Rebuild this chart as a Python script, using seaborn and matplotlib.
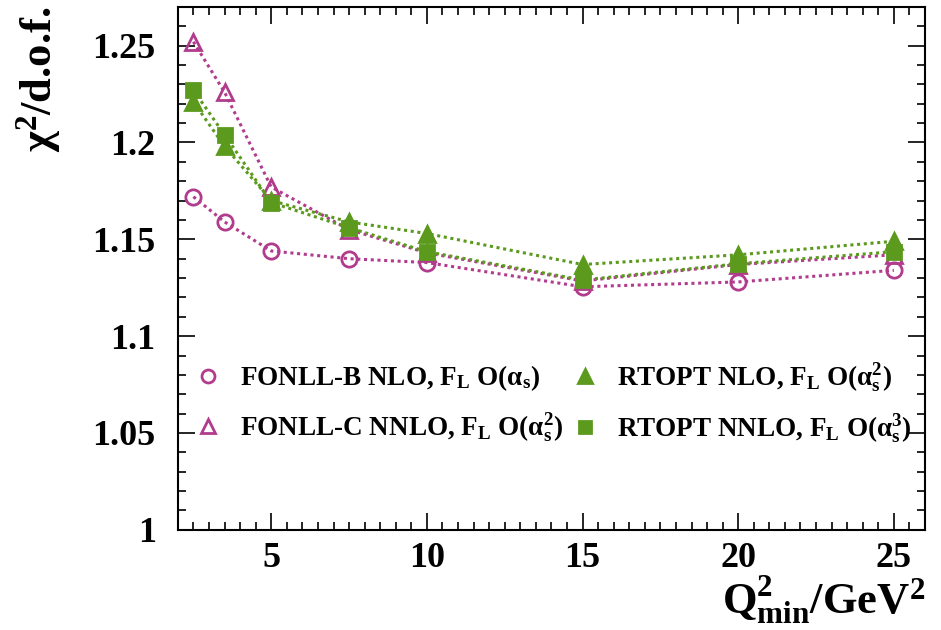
import matplotlib
matplotlib.use("Agg")
import matplotlib.pyplot as plt
import seaborn as sns
import pandas as pd
from matplotlib.lines import Line2D
from matplotlib.ticker import MultipleLocator

q2min = [2.5, 3.5, 5, 7.5, 10, 15, 20, 25]
fonll_b = [1.172, 1.159, 1.144, 1.140, 1.138, 1.1255, 1.128, 1.134]
fonll_c = [1.252, 1.226, 1.177, 1.155, 1.143, 1.1285, 1.137, 1.142]
rtopt_nlo = [1.221, 1.198, 1.170, 1.159, 1.153, 1.137, 1.142, 1.149]
rtopt_nnlo = [1.227, 1.204, 1.169, 1.156, 1.1436, 1.129, 1.1374, 1.1436]

labels = [
    r"FONLL-B NLO, F$_{\mathregular{L}}$ O($\alpha_{\mathregular{s}}$)",
    r"FONLL-C NNLO, F$_{\mathregular{L}}$ O($\alpha_{\mathregular{s}}^{2}$)",
    r"RTOPT NLO, F$_{\mathregular{L}}$ O($\alpha_{\mathregular{s}}^{2}$)",
    r"RTOPT NNLO, F$_{\mathregular{L}}$ O($\alpha_{\mathregular{s}}^{3}$)",
]

magenta = "#b13c8d"
green = "#5b9a1d"

sns.set_style("ticks")
plt.rcParams["font.family"] = ["Liberation Serif", "DejaVu Serif"]
plt.rcParams["font.weight"] = "bold"
plt.rcParams["text.color"] = "black"
plt.rcParams["axes.labelcolor"] = "black"
plt.rcParams["xtick.color"] = "black"
plt.rcParams["ytick.color"] = "black"
plt.rcParams["xtick.labelcolor"] = "black"
plt.rcParams["ytick.labelcolor"] = "black"
plt.rcParams["mathtext.fontset"] = "custom"
plt.rcParams["mathtext.rm"] = "Liberation Serif:bold"
plt.rcParams["mathtext.it"] = "Liberation Serif:bold"
plt.rcParams["mathtext.bf"] = "Liberation Serif:bold"
plt.rcParams["mathtext.default"] = "regular"

fig = plt.figure(figsize=(9.41, 6.3), dpi=100)
ax = fig.add_axes([0.189, 0.159, 0.794, 0.830])

series = [
    (fonll_b, magenta, "o", "none", 11),
    (fonll_c, magenta, "^", "none", 12),
    (rtopt_nlo, green, "^", green, 12),
    (rtopt_nnlo, green, "s", green, 10),
]
ls = (0, (1.0, 1.2))
handles = []
for (vals, col, mk, fc, ms), lab in zip(series, labels):
    df = pd.DataFrame({"x": q2min, "y": vals})
    sns.lineplot(data=df, x="x", y="y", ax=ax, color=col, linestyle=ls,
                 linewidth=2.2, marker=mk, markersize=ms, markerfacecolor=fc,
                 markeredgecolor=col, markeredgewidth=2.0, legend=False)
    handles.append(Line2D([], [], linestyle="none", marker=mk, markersize=ms * 0.85,
                          markerfacecolor=fc, markeredgecolor=col, markeredgewidth=2.0,
                          label=lab))

ax.set_xlim(2, 26)
ax.set_ylim(1.0, 1.27)
ax.xaxis.set_minor_locator(MultipleLocator(0.5))
ax.yaxis.set_minor_locator(MultipleLocator(0.01))
ax.set_yticks([1.0, 1.05, 1.1, 1.15, 1.2, 1.25])
ax.set_yticklabels(["1", "1.05", "1.1", "1.15", "1.2", "1.25"])
ax.set_xticks([5, 10, 15, 20, 25])
ax.set_xticklabels(["5", "10", "15", "20", "25"])

ax.tick_params(which="both", direction="in", top=True, right=True, width=1.2, color="black")
ax.tick_params(which="major", length=12)
ax.tick_params(which="minor", length=6)
ax.tick_params(axis="y", which="major", labelsize=26, pad=16)
ax.tick_params(axis="x", which="major", labelsize=26, pad=9)
for lbl in ax.get_xticklabels() + ax.get_yticklabels():
    lbl.set_fontweight("bold")
    lbl.set_color("black")
for sp in ax.spines.values():
    sp.set_linewidth(1.5)
    sp.set_color("black")

ax.set_xlabel(r"Q$_{\mathregular{min}}^{2}$/GeV$^{2}$", fontsize=32, fontweight="bold",
              loc="right", labelpad=-2, color="black")
ax.set_ylabel(r"$\chi^{2}$/d.o.f.", fontsize=32, fontweight="bold", loc="top",
              labelpad=21, color="black")

leg = ax.legend(handles=handles, ncol=2, frameon=False, loc="upper left",
                bbox_to_anchor=(-0.011, 0.369), handletextpad=0.7,
                columnspacing=0.3, handlelength=1.0, labelspacing=0.66,
                prop={"family": "Liberation Serif", "weight": "bold", "size": 19.5})
for t in leg.get_texts():
    t.set_color("black")

fig.savefig("out.png", dpi=100)
